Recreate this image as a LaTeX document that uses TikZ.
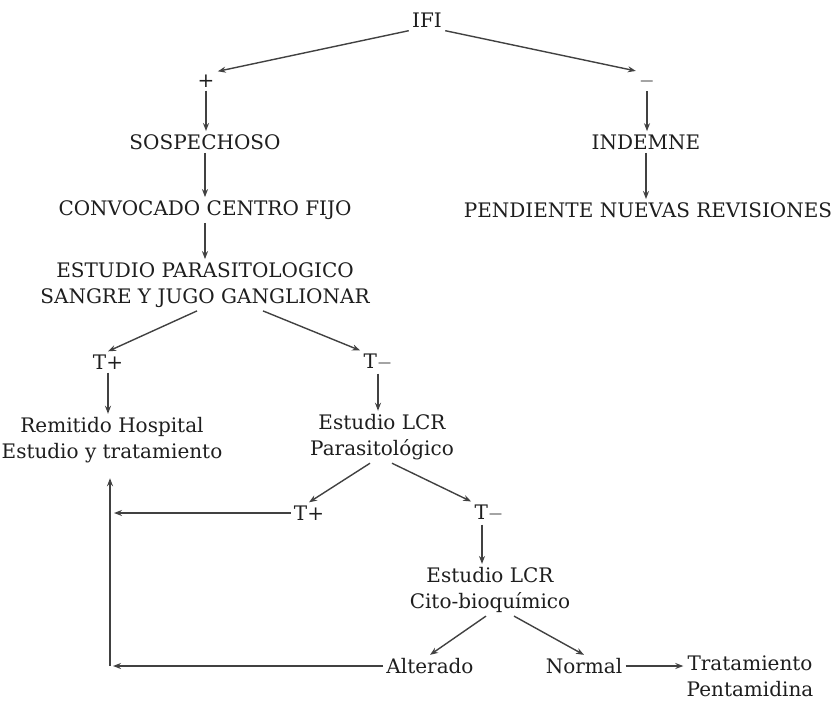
\documentclass[tikz,border=0pt]{standalone}
\usepackage{fontspec}
\setmainfont{DejaVu Serif}
\usepackage{tikz}
\usetikzlibrary{calc,arrows.meta}
\definecolor{inkgray}{RGB}{30,30,30}
\definecolor{linegray}{RGB}{65,65,65}
\begin{document}
\begin{tikzpicture}[x=0.5pt,y=-0.5pt,
    lbl/.style={inner sep=1.5pt,align=center,text=inkgray,
                font=\fontsize{10}{13}\selectfont},
    arr/.style={-{Stealth[length=4pt,width=3pt]},linegray,line width=0.7pt}]
  \useasboundingbox (0,0) rectangle (840,702);
  % first branch
  \node[lbl] (ifi) at (427,20) {IFI};
  \node[lbl] (pos) at (206,81) {+};
  \node[lbl] (neg) at (647,81) {$-$};
  \node[lbl] (sosp) at (205,142) {SOSPECHOSO};
  \node[lbl] (indem) at (646,142) {INDEMNE};
  \node[lbl] (conv) at (205,210) {CONVOCADO CENTRO FIJO};
  \node[lbl] (pend) at (648,210) {PENDIENTE NUEVAS REVISIONES};
  \node[lbl] (epar) at (205,285) {ESTUDIO PARASITOLOGICO\\SANGRE Y JUGO GANGLIONAR};
  % parasitological results
  \node[lbl] (tpa) at (108,362) {T+};
  \node[lbl] (tma) at (378,362) {T$-$};
  \node[lbl] (remit) at (112,440) {Remitido Hospital\\Estudio y tratamiento};
  \node[lbl] (lcrp) at (382,437) {Estudio LCR\\Parasitológico};
  \node[lbl] (tpb) at (309,513) {T+};
  \node[lbl] (tmb) at (489,513) {T$-$};
  \node[lbl] (lcrc) at (490,590) {Estudio LCR\\Cito-bioquímico};
  \node[lbl] (alt) at (430,666) {Alterado};
  \node[lbl] (norm) at (584,666) {Normal};
  \node[lbl] (trat) at (750,676) {Tratamiento\\Pentamidina};
  \coordinate (jtp) at (114,513);
  \coordinate (corner) at (110,666);
  \coordinate (tmbs) at ($(tmb.south)+(-7,0)$);
  % connectors
  \draw[arr] (ifi.south west) -- (pos.north east);
  \draw[arr] (ifi.south east) -- (neg.north west);
  \draw[arr] (pos.south) -- (pos.south |- sosp.north);
  \draw[arr] (neg.south) -- (neg.south |- indem.north);
  \draw[arr] (sosp.south) -- (sosp.south |- conv.north);
  \draw[arr] (indem.south) -- (indem.south |- pend.north);
  \draw[arr] (conv.south) -- (conv.south |- epar.north);
  \draw[arr] ($(epar.south)+(-8,0)$) -- (tpa.north);
  \draw[arr] ($(epar.south)+(58,0)$) -- (tma.north west);
  \draw[arr] (tpa.south) -- (tpa.south |- remit.north);
  \draw[arr] (tma.south) -- (tma.south |- lcrp.north);
  \draw[arr] ($(lcrp.south)+(-12,0)$) -- (tpb.north);
  \draw[arr] ($(lcrp.south)+(10,0)$) -- (tmb.north west);
  \draw[arr] (tpb.west) -- (jtp);
  \draw[arr] (tmbs) -- (tmbs |- lcrc.north);
  \draw[arr] ($(lcrc.south)+(-4,0)$) -- (alt.north);
  \draw[arr] ($(lcrc.south)+(24,0)$) -- (norm.north);
  \draw[arr] (norm.east) -- (norm.east -| trat.west);
  \draw[arr] (alt.west) -- ($(corner)+(3,0)$);
  \draw[arr] (corner) -- ($(remit.south -| corner)+(0,12)$);
\end{tikzpicture}
\end{document}
